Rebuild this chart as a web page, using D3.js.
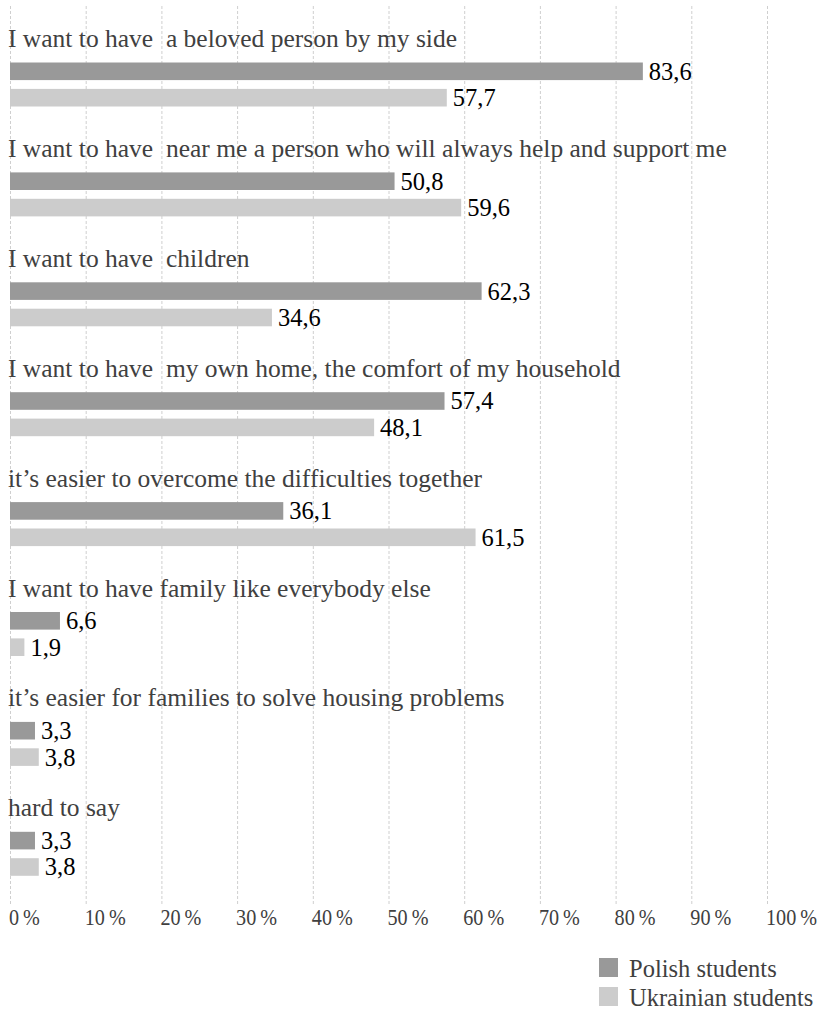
<!DOCTYPE html>
<html>
<head>
<meta charset="utf-8">
<script src="https://cdn.jsdelivr.net/npm/d3@7"></script>
<style>
  html, body { margin: 0; padding: 0; background: #fff; }
  svg { display: block; }
</style>
</head>
<body>
<svg id="chart" width="824" height="1009"></svg>
<script>
// Reasons for wanting a family, % of respondents
const categories = [
  "I want to have  a beloved person by my side",
  "I want to have  near me a person who will always help and support me",
  "I want to have  children",
  "I want to have  my own home, the comfort of my household",
  "it\u2019s easier to overcome the difficulties together",
  "I want to have family like everybody else",
  "it\u2019s easier for families to solve housing problems",
  "hard to say"
];
const polish    = [83.6, 50.8, 62.3, 57.4, 36.1, 6.6, 3.3, 3.3];
const ukrainian = [57.7, 59.6, 34.6, 48.1, 61.5, 1.9, 3.8, 3.8];
const seriesNames = ["Polish students", "Ukrainian students"];
const seriesColors = ["#999999", "#cccccc"];
const xTicks = [0, 10, 20, 30, 40, 50, 60, 70, 80, 90, 100];

const FONT = "Liberation Serif";
const svg = d3.select("#chart");

const x = d3.scaleLinear().domain([0, 100]).range([10, 767]);

// one band per category: label on top, two bars below it
const y = d3.scaleBand().domain(categories).range([22.5, 22.5 + 8 * 109.9]).padding(0);
const ySeries = d3.scaleBand().domain(seriesNames).range([40, 84]).paddingInner(1 / 3).paddingOuter(0);

const fmt = v => d3.format(".1f")(v).replace(".", ",");

// dashed vertical gridlines
svg.append("g")
  .selectAll("line")
  .data(xTicks)
  .join("line")
  .attr("x1", d => x(d) + 0.5)
  .attr("x2", d => x(d) + 0.5)
  .attr("y1", 6)
  .attr("y2", 905)
  .attr("stroke", "#cfcfcf")
  .attr("stroke-width", 1)
  .attr("stroke-dasharray", "3,2");

// axis tick labels, set in a narrowed face
const xAxis = d3.axisBottom(x)
  .tickValues(xTicks)
  .tickFormat(d => d + "\u2009%")
  .tickSize(0);
const axisG = svg.append("g")
  .attr("transform", "translate(0,906)")
  .call(xAxis)
  .attr("font-family", FONT)
  .attr("font-size", null);
axisG.select(".domain").remove();
axisG.selectAll(".tick text")
  .attr("text-anchor", "start")
  .attr("x", -1.5)
  .attr("y", 0)
  .attr("dy", "19px")
  .attr("fill", "#404040")
  .attr("font-family", FONT)
  .attr("font-size", 24)
  .each(function () {
    const w = this.getComputedTextLength();
    d3.select(this).attr("textLength", w * 0.84).attr("lengthAdjust", "spacingAndGlyphs");
  });

const rows = categories.map((c, i) => ({ cat: c, values: [polish[i], ukrainian[i]] }));

const group = svg.append("g")
  .selectAll("g")
  .data(rows)
  .join("g")
  .attr("transform", d => `translate(0,${y(d.cat)})`);

// category labels
group.append("text")
  .attr("x", 8)
  .attr("y", ySeries(seriesNames[0]) - 15.5)
  .attr("fill", "#404040")
  .attr("font-family", FONT)
  .attr("font-size", 25.5)
  .style("white-space", "pre")
  .text(d => d.cat);

const bars = group.selectAll("g.bar")
  .data(d => d.values.map((v, j) => ({ name: seriesNames[j], color: seriesColors[j], value: v })))
  .join("g")
  .attr("class", "bar");

bars.append("rect")
  .attr("x", x(0))
  .attr("y", d => ySeries(d.name))
  .attr("width", d => x(d.value) - x(0))
  .attr("height", ySeries.bandwidth())
  .attr("fill", d => d.color);

// value labels
bars.append("text")
  .attr("x", d => x(d.value) + 6)
  .attr("y", d => ySeries(d.name) + ySeries.bandwidth() / 2 + 8.5)
  .attr("fill", "#000")
  .attr("font-family", FONT)
  .attr("font-size", 24.5)
  .text(d => fmt(d.value));

// legend
const legend = svg.append("g").attr("transform", "translate(599,958)");
const item = legend.selectAll("g")
  .data(seriesNames)
  .join("g")
  .attr("transform", (d, i) => `translate(0,${i * 29})`);
item.append("rect")
  .attr("width", 19)
  .attr("height", 19)
  .attr("fill", (d, i) => seriesColors[i]);
item.append("text")
  .attr("x", 30)
  .attr("y", 18.5)
  .attr("fill", "#404040")
  .attr("font-family", FONT)
  .attr("font-size", 24.5)
  .text(d => d);
</script>
</body>
</html>
